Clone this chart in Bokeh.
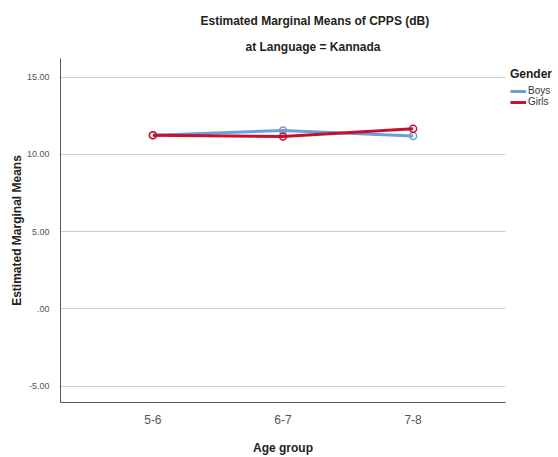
from bokeh.plotting import figure
from bokeh.models import FactorRange, Range1d, Legend, LegendItem, Title, FixedTicker, ColumnDataSource
from bokeh.embed import file_html
from bokeh.resources import INLINE

age_groups = ["5-6", "6-7", "7-8"]
boys = [11.23, 11.55, 11.18]
girls = [11.23, 11.16, 11.66]
y_ticks = [-5, 0, 5, 10, 15]
y_tick_labels = {-5: "-5.00", 0: ".00", 5: "5.00", 10: "10.00", 15: "15.00"}

FONT = "Liberation Sans"
BOYS_COLOR = "#6a9fdc"
GIRLS_COLOR = "#c8102e"

p = figure(frame_width=445, frame_height=344, output_backend="svg", toolbar_location=None,
           x_range=FactorRange(factors=age_groups, range_padding=0.14),
           y_range=Range1d(-6.05, 16.2),
           min_border_left=60, min_border_right=53, min_border_top=16, min_border_bottom=55)
p.margin = (6, 0, 0, 0)
p.outline_line_color = None
p.background_fill_color = "white"
p.border_fill_color = "white"

src = ColumnDataSource(dict(x=age_groups, boys=boys, girls=girls))
rb = p.line("x", "boys", source=src, line_color=BOYS_COLOR, line_width=3)
p.scatter("x", "boys", source=src, marker="circle", size=7, fill_color="white", fill_alpha=0.0,
          line_color=BOYS_COLOR, line_width=1.5)
rg = p.line("x", "girls", source=src, line_color=GIRLS_COLOR, line_width=3)
p.scatter("x", "girls", source=src, marker="circle", size=7, fill_color="white", fill_alpha=0.0,
          line_color=GIRLS_COLOR, line_width=1.5)

# titles (added inner first)
p.add_layout(Title(text="at Language = Kannada", text_font=FONT, text_font_size="12px",
                   text_font_style="bold", align="left", offset=185, text_color="#222222"), "above")
p.add_layout(Title(text="Estimated Marginal Means of CPPS (dB)", text_font=FONT, text_font_size="12px",
                   text_font_style="bold", align="left", offset=140, text_color="#222222"), "above")

# axes
p.xgrid.grid_line_color = None
p.ygrid.grid_line_color = "#cccccc"
p.ygrid.grid_line_width = 1
p.yaxis.ticker = FixedTicker(ticks=y_ticks)
p.yaxis.major_label_overrides = y_tick_labels
for ax in (p.xaxis[0], p.yaxis[0]):
    ax.axis_line_color = "#555555"
    ax.axis_line_width = 1
    ax.major_tick_line_color = None
    ax.minor_tick_line_color = None
    ax.major_label_text_font = FONT
    ax.major_label_text_color = "#555555"
    ax.axis_label_text_font = FONT
    ax.axis_label_text_font_style = "bold"
    ax.axis_label_text_font_size = "12px"
    ax.axis_label_text_color = "#222222"
p.xaxis.major_label_text_font_size = "12px"
p.yaxis.major_label_text_font_size = "9px"
p.xaxis.major_label_standoff = 6
p.yaxis.major_label_standoff = 5
p.xaxis.axis_label = "Age group"
p.yaxis.axis_label = "Estimated Marginal Means"
p.xaxis.axis_label_standoff = 14
p.yaxis.axis_label_standoff = 0

legend = Legend(items=[LegendItem(label="Boys", renderers=[rb]),
                       LegendItem(label="Girls", renderers=[rg])],
                title="Gender", title_text_font=FONT, title_text_font_style="bold",
                title_text_font_size="12px", title_text_color="#222222", title_standoff=4,
                label_text_font=FONT, label_text_font_size="10px", label_text_color="#333333",
                glyph_width=16, glyph_height=10, label_height=10, label_standoff=2,
                spacing=0, padding=0, margin=0, border_line_color=None,
                background_fill_alpha=0.0, location=(5, 295))
p.add_layout(legend, "right")

open("out.html", "w").write(file_html(p, INLINE))
